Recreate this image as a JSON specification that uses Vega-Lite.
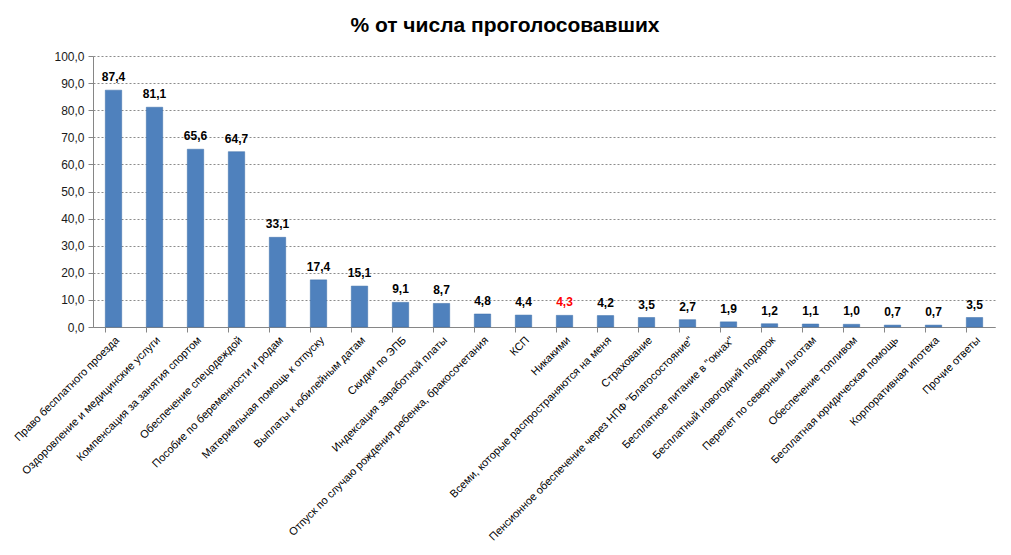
{
  "$schema": "https://vega.github.io/schema/vega-lite/v6.json",
  "width": 902,
  "height": 271,
  "autosize": {"type": "none"},
  "padding": {"left": 93, "top": 56, "right": 16, "bottom": 228},
  "background": "white",
  "config": {
    "locale": {"number": {"decimal": ",", "thousands": " ", "grouping": [3], "currency": ["", ""]}},
    "view": {"stroke": null},
    "font": "Liberation Sans"
  },
  "title": {
    "text": "% от числа проголосовавших",
    "fontSize": 21,
    "fontWeight": "bold",
    "font": "Liberation Sans",
    "color": "#000000",
    "anchor": "middle",
    "dx": -39,
    "offset": 14
  },
  "data": {
    "values": [
      {"cat": "Право бесплатного проезда", "v": 87.4, "hl": "n"},
      {"cat": "Оздоровление и медицинские услуги", "v": 81.1, "hl": "n"},
      {"cat": "Компенсация за занятия спортом", "v": 65.6, "hl": "n"},
      {"cat": "Обеспечение спецодеждой", "v": 64.7, "hl": "n"},
      {"cat": "Пособие по беременности и родам", "v": 33.1, "hl": "n"},
      {"cat": "Материальная помощь к отпуску", "v": 17.4, "hl": "n"},
      {"cat": "Выплаты к юбилейным датам", "v": 15.1, "hl": "n"},
      {"cat": "Скидки по ЭПБ", "v": 9.1, "hl": "n"},
      {"cat": "Индексация заработной платы", "v": 8.7, "hl": "n"},
      {"cat": "Отпуск по случаю рождения ребенка, бракосочетания", "v": 4.8, "hl": "n"},
      {"cat": "КСП", "v": 4.4, "hl": "n"},
      {"cat": "Никакими", "v": 4.3, "hl": "y"},
      {"cat": "Всеми, которые распространяются на меня", "v": 4.2, "hl": "n"},
      {"cat": "Страхование", "v": 3.5, "hl": "n"},
      {"cat": "Пенсионное обеспечение через НПФ \"Благосостояние\"", "v": 2.7, "hl": "n"},
      {"cat": "Бесплатное питание в \"окнах\"", "v": 1.9, "hl": "n"},
      {"cat": "Бесплатный новогодний подарок", "v": 1.2, "hl": "n"},
      {"cat": "Перелет по северным льготам", "v": 1.1, "hl": "n"},
      {"cat": "Обеспечение топливом", "v": 1.0, "hl": "n"},
      {"cat": "Бесплатная юридическая помощь", "v": 0.7, "hl": "n"},
      {"cat": "Корпоративная ипотека", "v": 0.7, "hl": "n"},
      {"cat": "Прочие ответы", "v": 3.5, "hl": "n"}
    ]
  },
  "encoding": {
    "x": {
      "field": "cat",
      "type": "nominal",
      "sort": null,
      "scale": {"paddingInner": 0.6, "paddingOuter": 0.3},
      "axis": {
        "title": null,
        "labelAngle": -45,
        "labelAlign": "right",
        "labelBaseline": "top",
        "labelFontSize": 11,
        "labelColor": "#000000",
        "labelLimit": 400,
        "labelPadding": 2,
        "labelOverlap": false,
        "bandPosition": 0,
        "tickSize": 5,
        "tickColor": "#868686",
        "domainColor": "#868686",
        "grid": false
      }
    },
    "y": {
      "field": "v",
      "type": "quantitative",
      "scale": {"domain": [0, 100]},
      "axis": {
        "title": null,
        "values": [0, 10, 20, 30, 40, 50, 60, 70, 80, 90, 100],
        "format": ".1f",
        "labelFontSize": 12,
        "labelColor": "#1a1a1a",
        "labelPadding": 4,
        "tickSize": 5,
        "tickColor": "#868686",
        "domainColor": "#868686",
        "gridColor": "#8c8c8c",
        "gridDash": [2, 2],
        "gridWidth": 1
      }
    }
  },
  "layer": [
    {
      "mark": {"type": "bar", "color": "#4f81bd", "stroke": "#3d6ea8", "strokeWidth": 0.5}
    },
    {
      "mark": {"type": "text", "dy": -13, "fontSize": 12, "fontWeight": "bold"},
      "encoding": {
        "text": {"field": "v", "type": "quantitative", "format": ".1f"},
        "color": {
          "field": "hl",
          "type": "nominal",
          "scale": {"domain": ["n", "y"], "range": ["#000000", "#ff0000"]},
          "legend": null
        }
      }
    }
  ]
}
